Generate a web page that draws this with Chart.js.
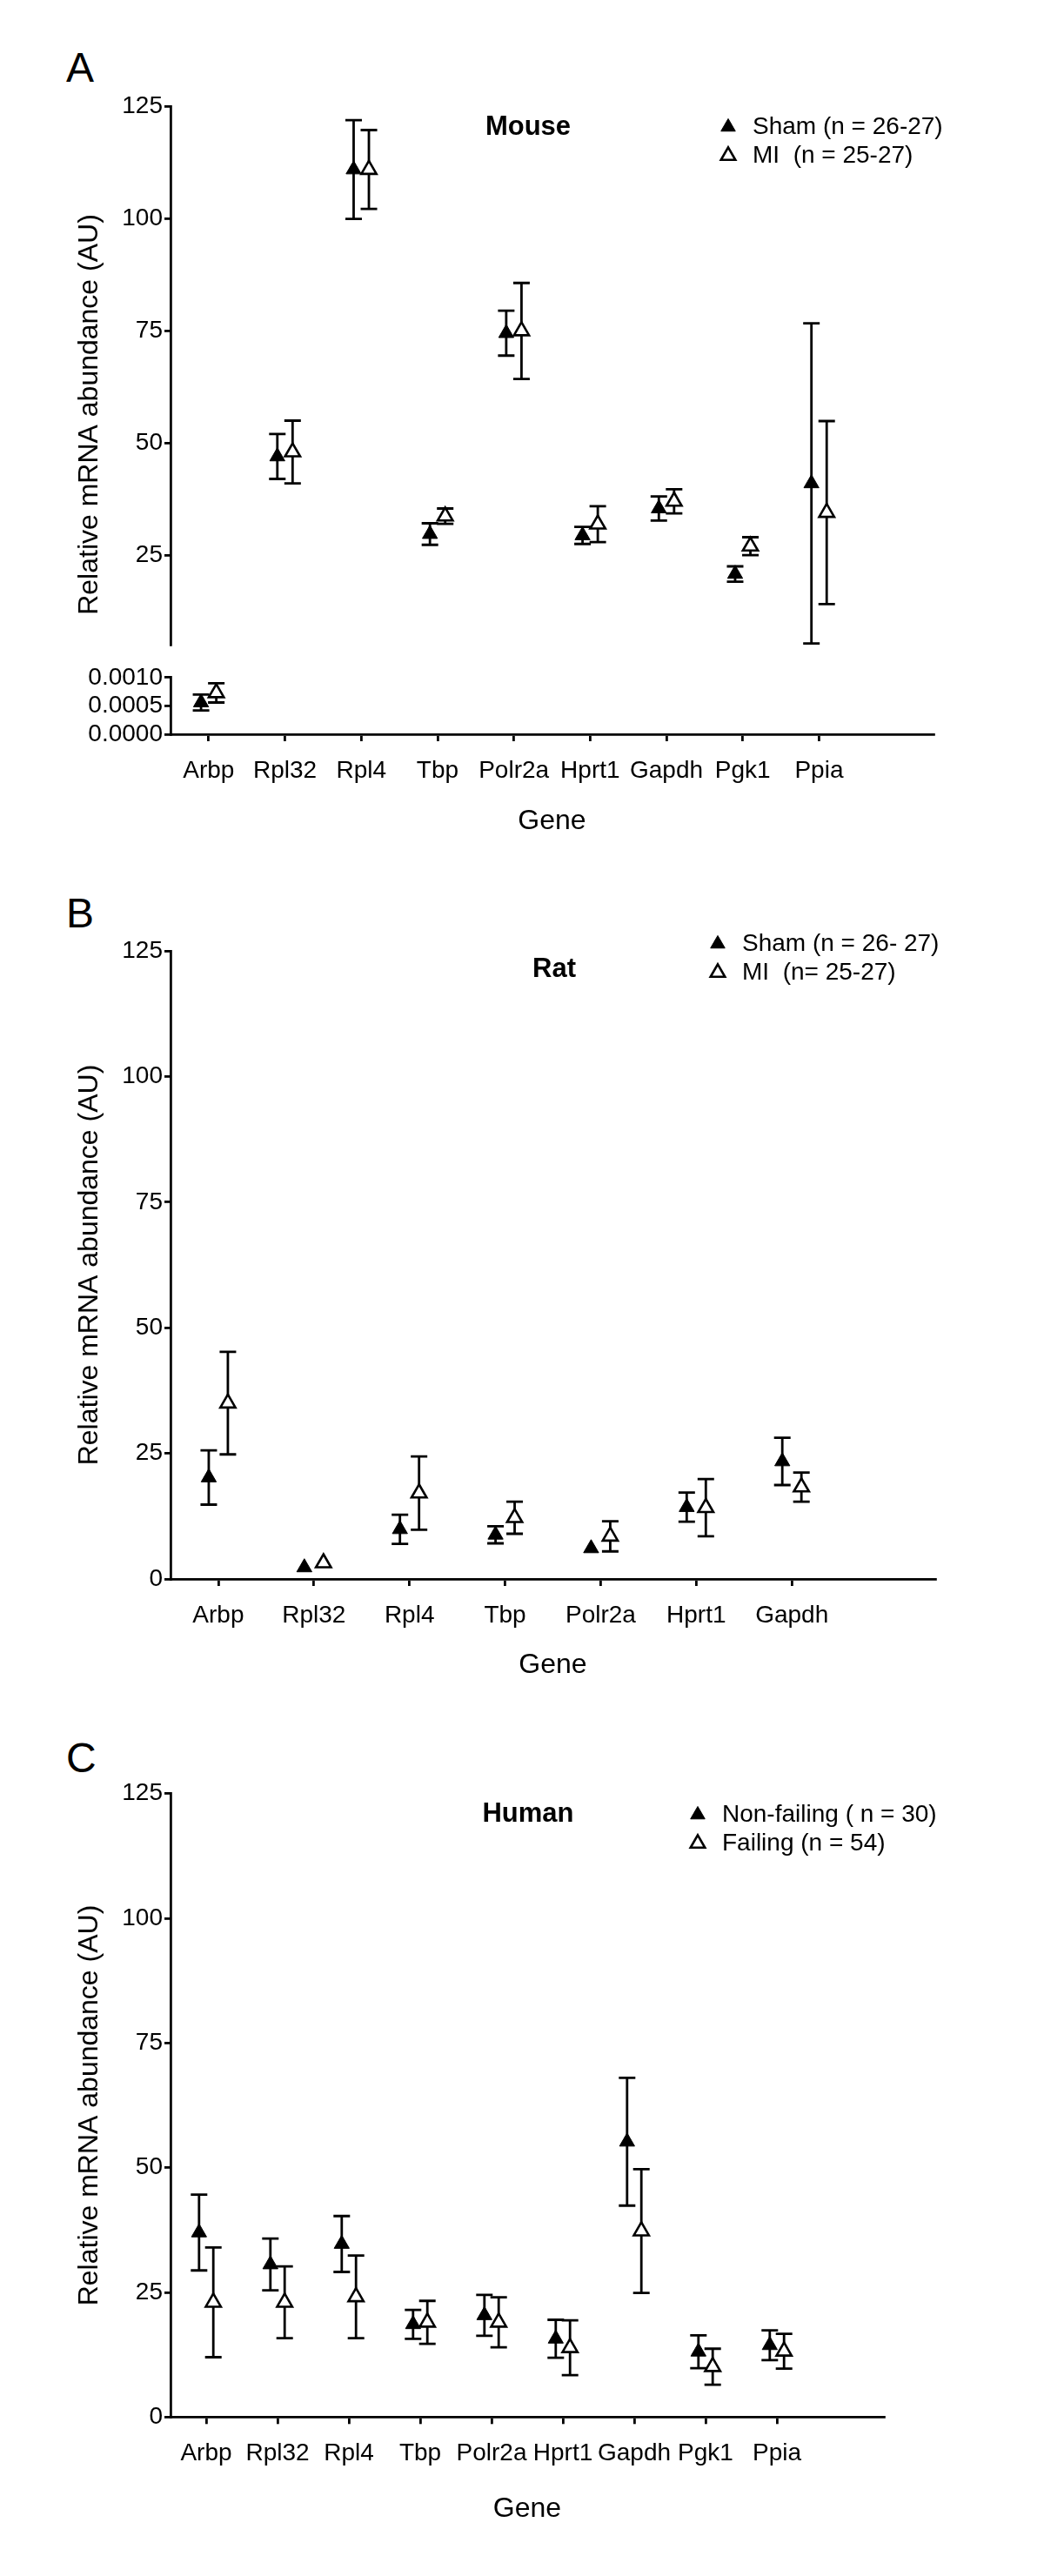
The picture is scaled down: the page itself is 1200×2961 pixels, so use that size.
<!DOCTYPE html>
<html><head><meta charset="utf-8">
<script src="https://cdn.jsdelivr.net/npm/chart.js@4/dist/chart.umd.min.js"></script>
<style>
html,body{margin:0;padding:0;background:#fff;}
#wrap{position:relative;width:1200px;height:2961px;background:#fff;overflow:hidden;}
canvas{position:absolute;left:0;}
.pl{position:absolute;font-family:'Liberation Sans',Arial,Helvetica,sans-serif;font-size:48px;line-height:48px;color:#000;}
</style></head><body>
<div id="wrap">
<div class="pl" style="left:76px;top:54px">A</div>
<div class="pl" style="left:76px;top:1026px">B</div>
<div class="pl" style="left:76px;top:1997px">C</div>
<canvas id="cA1" width="1200" height="760" style="top:0px"></canvas>
<canvas id="cA2" width="1200" height="240" style="top:760px"></canvas>
<canvas id="cB" width="1200" height="960" style="top:1000px"></canvas>
<canvas id="cC" width="1200" height="1001" style="top:1960px"></canvas>
</div>
<script>
// ---------- DATA ----------
// Panel A: Mouse
const genesA = ['Arbp','Rpl32','Rpl4','Tbp','Polr2a','Hprt1','Gapdh','Pgk1','Ppia'];
const shamA    = [0.00056, 47, 111, 29.7, 74.5, 29.4, 35.4, 20.8, 41];
const shamErrA = [0.00014, 5, 11, 2.4, 5, 1.9, 2.7, 1.7, 35.7];
const miA      = [0.00073, 48, 111, 33.7, 75, 31.9, 37, 27, 34.5];
const miErrA   = [0.00017, 7, 8.8, 1.7, 10.7, 4, 2.7, 2, 20.4];
const legendA  = ['Sham (n = 26-27)', 'MI  (n = 25-27)'];
const yTicksAUpper = [25, 50, 75, 100, 125];
const yTicksALower = [0, 0.0005, 0.001];
const yRangeAUpper = [5, 125];
const yRangeALower = [0, 0.001];

// Panel B: Rat
const genesB = ['Arbp','Rpl32','Rpl4','Tbp','Polr2a','Hprt1','Gapdh'];
const shamB    = [20.2, 2.3, 9.9, 8.8, 6.1, 14.3, 23.4];
const shamErrB = [5.4, 0, 2.9, 1.7, 0, 2.9, 4.7];
const miB      = [35, 3.2, 17.1, 12.2, 8.5, 14.2, 18.3];
const miErrB   = [10.2, 0, 7.3, 3.2, 3, 5.7, 2.9];
const legendB  = ['Sham (n = 26- 27)', 'MI  (n= 25-27)'];

// Panel C: Human
const genesC = ['Arbp','Rpl32','Rpl4','Tbp','Polr2a','Hprt1','Gapdh','Pgk1','Ppia'];
const nfC      = [37, 30.6, 34.7, 18.6, 20.4, 15.7, 55.2, 13.1, 14.4];
const nfErrC   = [7.6, 5.2, 5.6, 2.9, 4.1, 3.8, 12.8, 3.3, 3];
const fC       = [23, 23, 24.1, 19, 19, 13.9, 37.3, 10.1, 13.2];
const fErrC    = [11, 7.2, 8.3, 4.3, 5, 5.5, 12.4, 3.6, 3.5];
const legendC  = ['Non-failing ( n = 30)', 'Failing (n = 54)'];

const yTicksBC = [0, 25, 50, 75, 100, 125];
const yRangeBC = [0, 125];
const yTitle = 'Relative mRNA abundance (AU)';
const xTitle = 'Gene';

// ---------- STYLE / HELPERS ----------
const FONT = "'Liberation Sans', Arial, Helvetica, sans-serif";
Chart.defaults.font.family = FONT;
Chart.defaults.color = '#000';
const OFF = 0.1;
const LW = 2.8;

const errorBars = {
  id: 'errorBars',
  beforeDatasetsDraw(chart) {
    const ctx = chart.ctx, ys = chart.scales.y;
    chart.data.datasets.forEach((d, di) => {
      if (!d.errors) return;
      const meta = chart.getDatasetMeta(di);
      ctx.save();
      ctx.strokeStyle = '#000';
      ctx.lineWidth = LW;
      meta.data.forEach((pt, i) => {
        const v = d.data[i].y, e = d.errors[i];
        if (v == null || !e) return;
        const x = pt.x;
        const yt = ys.getPixelForValue(v + e), yb = ys.getPixelForValue(v - e);
        ctx.beginPath();
        ctx.moveTo(x, yt); ctx.lineTo(x, yb);
        ctx.moveTo(x - 9.5, yt); ctx.lineTo(x + 9.5, yt);
        ctx.moveTo(x - 9.5, yb); ctx.lineTo(x + 9.5, yb);
        ctx.stroke();
      });
      ctx.restore();
    });
  }
};

const placeBoxes = {
  id: 'placeBoxes',
  beforeDraw(chart, args, o) {
    const t = chart.titleBlock;
    if (t && o.title) {
      const h = t.height;
      t.left = o.title.cx - 200; t.right = o.title.cx + 200; t.width = 400;
      t.top = o.title.cy - h / 2; t.bottom = t.top + h;
    }
    const l = chart.legend;
    if (l && o.legend) {
      l.left = o.legend.x; l.top = o.legend.y;
      l.right = l.left + 400; l.bottom = l.top + 200;
    }
  }
};

const sideTitle = {
  id: 'sideTitle',
  afterDraw(chart, args, o) {
    if (!o.text) return;
    const c = chart.ctx;
    c.save();
    c.translate(o.x, o.y);
    c.rotate(-Math.PI / 2);
    c.font = '32px ' + FONT;
    c.fillStyle = '#000';
    c.textAlign = 'center';
    c.textBaseline = 'middle';
    c.fillText(o.text, 0, 0);
    c.restore();
  }
};

function ds(label, vals, errs, off, filled, keep) {
  return {
    label,
    data: vals.map((v, i) => ({x: i + 1 + off, y: keep(v) ? v : null})),
    errors: errs,
    pointStyle: 'triangle',
    pointRadius: 10, pointHoverRadius: 10,
    pointBackgroundColor: filled ? '#000' : '#fff',
    pointBorderColor: '#000',
    pointBorderWidth: filled ? 1 : 2.6,
    backgroundColor: filled ? '#000' : '#fff',
    borderColor: '#000',
    borderWidth: filled ? 1 : 2.6,
    showLine: false,
    clip: false
  };
}

function yScale(range, ticks, fmt, title) {
  return {
    type: 'linear', position: 'left', min: range[0], max: range[1],
    afterBuildTicks: s => { s.ticks = ticks.map(v => ({value: v})); },
    afterFit: s => { s.width = 196; },
    ticks: {font: {size: 28}, color: '#000', padding: 2, autoSkip: false, callback: fmt},
    grid: {drawOnChartArea: false, drawTicks: true, tickLength: 7, color: '#000', lineWidth: LW},
    border: {display: true, color: '#000', width: LW},
    title: title ? {display: true, text: title, font: {size: 32}, color: '#000', padding: {top: 83.8, bottom: 0}} : {display: false}
  };
}

function xScale(labels, height, titlePad, show) {
  return {
    type: 'linear', position: 'bottom', min: 0.5, max: labels.length + 1.5, display: show,
    afterBuildTicks: s => { s.ticks = labels.map((_, i) => ({value: i + 1})); },
    afterFit: s => { s.height = height; },
    ticks: {font: {size: 28}, color: '#000', padding: 17, autoSkip: false, maxRotation: 0, minRotation: 0,
            callback: v => labels[Math.round(v) - 1] ?? ''},
    grid: {drawOnChartArea: false, drawTicks: true, tickLength: 8, color: '#000', lineWidth: LW},
    border: {display: true, color: '#000', width: LW},
    title: {display: true, text: xTitle, font: {size: 32}, color: '#000', padding: {top: 0, bottom: titlePad}}
  };
}

function legendOpts() {
  return {display: true, position: 'chartArea', align: 'start',
    labels: {usePointStyle: true, boxWidth: 28, boxHeight: 13.5, padding: 5, font: {size: 28}, color: '#000'}};
}
function titleOpts(text) {
  return {display: true, text, font: {size: 31, weight: 'bold'}, padding: 0, color: '#000'};
}
const TITLE_H = 31 * 1.2;
const base = {responsive: false, animation: false, devicePixelRatio: 1, events: []};
const fmtInt = v => String(v);
const fmt4 = v => Number(v).toFixed(4);

// ---------- PANEL A (upper segment) ----------
const upperA = v => v > yRangeALower[1];
const lowerA = v => v <= yRangeALower[1];
new Chart(document.getElementById('cA1'), {
  type: 'scatter',
  data: {datasets: [
    ds(legendA[0], shamA, shamErrA, -OFF, true, upperA),
    ds(legendA[1], miA, miErrA, OFF, false, upperA)
  ]},
  options: Object.assign({}, base, {
    layout: {autoPadding: false, padding: {left: 0, right: 127, top: 122.7 - TITLE_H, bottom: 9}},
    scales: {
      x: {type: 'linear', min: 0.5, max: genesA.length + 1.5, display: false},
      y: yScale(yRangeAUpper, yTicksAUpper, fmtInt, null)
    },
    plugins: {
      legend: legendOpts(),
      title: titleOpts('Mouse'),
      tooltip: {enabled: false},
      placeBoxes: {title: {cx: 607, cy: 146}, legend: {x: 818, y: 127}},
      sideTitle: {text: yTitle, x: 103, y: 476.5}
    }
  }),
  plugins: [errorBars, placeBoxes, sideTitle]
});

// ---------- PANEL A (lower segment + x axis) ----------
new Chart(document.getElementById('cA2'), {
  type: 'scatter',
  data: {datasets: [
    ds(legendA[0], shamA, shamErrA, -OFF, true, lowerA),
    ds(legendA[1], miA, miErrA, OFF, false, lowerA)
  ]},
  options: Object.assign({}, base, {
    layout: {autoPadding: false, padding: {left: 0, right: 127, top: 14, bottom: 0}},
    scales: {
      x: xScale(genesA, 156, 36.8, true),
      y: yScale(yRangeALower, yTicksALower, fmt4, null)
    },
    plugins: {legend: {display: false}, title: {display: false}, tooltip: {enabled: false}}
  }),
  plugins: [errorBars]
});

// ---------- PANEL B ----------
const all = v => v != null;
new Chart(document.getElementById('cB'), {
  type: 'scatter',
  data: {datasets: [
    ds(legendB[0], shamB, shamErrB, -OFF, true, all),
    ds(legendB[1], miB, miErrB, OFF, false, all)
  ]},
  options: Object.assign({}, base, {
    layout: {autoPadding: false, padding: {left: 0, right: 125, top: 93 - TITLE_H, bottom: 0}},
    scales: {
      x: xScale(genesB, 145, 26.8, true),
      y: yScale(yRangeBC, yTicksBC, fmtInt, yTitle)
    },
    plugins: {
      legend: legendOpts(),
      title: titleOpts('Rat'),
      tooltip: {enabled: false},
      placeBoxes: {title: {cx: 637, cy: 114}, legend: {x: 806, y: 66}}
    }
  }),
  plugins: [errorBars, placeBoxes]
});

// ---------- PANEL C ----------
new Chart(document.getElementById('cC'), {
  type: 'scatter',
  data: {datasets: [
    ds(legendC[0], nfC, nfErrC, -OFF, true, all),
    ds(legendC[1], fC, fErrC, OFF, false, all)
  ]},
  options: Object.assign({}, base, {
    layout: {autoPadding: false, padding: {left: 0, right: 184, top: 101.7 - TITLE_H, bottom: 0}},
    scales: {
      x: xScale(genesC, 182.7, 57.8, true),
      y: yScale(yRangeBC, yTicksBC, fmtInt, yTitle)
    },
    plugins: {
      legend: legendOpts(),
      title: titleOpts('Human'),
      tooltip: {enabled: false},
      placeBoxes: {title: {cx: 607, cy: 125}, legend: {x: 783, y: 107}}
    }
  }),
  plugins: [errorBars, placeBoxes]
});
</script>
</body></html>
